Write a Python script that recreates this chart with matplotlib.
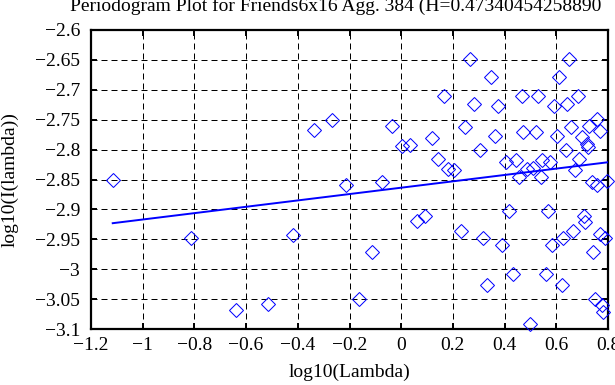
import numpy as np
import matplotlib
matplotlib.use('Agg')  # headless backend
import matplotlib.pyplot as plt

# log10(lambda), log10(I(lambda))
log_lambda = [
    -1.116, -0.813, -0.638, -0.514, -0.419, -0.336, -0.269, -0.214, -0.162, -0.114,
    -0.073, -0.036, 0.002, 0.034, 0.062, 0.092, 0.118, 0.142, 0.166, 0.182,
    0.204, 0.230, 0.248, 0.266, 0.283, 0.304, 0.318, 0.333, 0.347, 0.364,
    0.376, 0.390, 0.404, 0.416, 0.431, 0.443, 0.457, 0.467, 0.472, 0.485,
    0.498, 0.511, 0.521, 0.528, 0.539, 0.546, 0.559, 0.568, 0.576, 0.582,
    0.591, 0.601, 0.609, 0.621, 0.627, 0.636, 0.643, 0.648, 0.656, 0.663,
    0.672, 0.685, 0.689, 0.698, 0.707, 0.712, 0.718, 0.724, 0.725, 0.737,
    0.743, 0.750, 0.756, 0.756, 0.769, 0.769, 0.776, 0.782, 0.788, 0.795,
]
log_power = [
    -2.851, -2.947, -3.069, -3.058, -2.943, -2.768, -2.751, -2.859, -3.050, -2.972,
    -2.854, -2.761, -2.794, -2.792, -2.919, -2.911, -2.781, -2.815, -2.710, -2.832,
    -2.834, -2.936, -2.762, -2.648, -2.724, -2.800, -2.948, -3.026, -2.679, -2.777,
    -2.727, -2.960, -2.821, -2.902, -3.008, -2.818, -2.845, -2.710, -2.771, -2.832,
    -3.092, -2.830, -2.771, -2.710, -2.845, -2.818, -3.008, -2.902, -2.821, -2.959,
    -2.727, -2.777, -2.678, -3.026, -2.948, -2.800, -2.724, -2.648, -2.762, -2.936,
    -2.834, -2.710, -2.815, -2.779, -2.911, -2.921, -2.790, -2.795, -2.761, -2.854,
    -2.972, -3.049, -2.749, -2.859, -2.769, -2.941, -3.060, -3.071, -2.947, -2.852,
]

# least-squares fit line (slope = 1 - 2H)
fit_slope = 0.0532
fit_intercept = -2.8637
fit_x = [-1.116, 0.8]

x_ticks = [-1.2, -1.0, -0.8, -0.6, -0.4, -0.2, 0.0, 0.2, 0.4, 0.6, 0.8]
x_labels = ["\u22121.2", "\u22121", "\u22120.8", "\u22120.6", "\u22120.4", "\u22120.2",
            "0", "0.2", "0.4", "0.6", "0.8"]
y_ticks = [-2.6, -2.65, -2.7, -2.75, -2.8, -2.85, -2.9, -2.95, -3.0, -3.05, -3.1]
y_labels = ["\u22122.6", "\u22122.65", "\u22122.7", "\u22122.75", "\u22122.8", "\u22122.85",
            "\u22122.9", "\u22122.95", "\u22123", "\u22123.05", "\u22123.1"]

title = "Periodogram Plot for Friends6x16 Agg. 384 (H=0.47340454258890"

plt.rcParams['font.family'] = ['Liberation Serif', 'DejaVu Serif']
plt.rcParams['font.size'] = 14

fig = plt.figure(figsize=(6.15, 3.85), dpi=100)
ax = fig.add_axes([91 / 615, 56 / 385, 517 / 615, 299 / 385])

ax.set_xlim(-1.2, 0.8)
ax.set_ylim(-3.1, -2.6)

ax.grid(True, color='black', linewidth=0.72, linestyle=(0, (6, 4)))
ax.set_axisbelow(True)

fx = np.array(fit_x)
ax.plot(fx, fit_intercept + fit_slope * fx, color='#0000ff', linewidth=1.4, zorder=3)
ax.plot(log_lambda, log_power, linestyle='none', marker='D', markersize=7.0,
        markerfacecolor='none', markeredgecolor='#0000ff', markeredgewidth=0.72,
        zorder=4, clip_on=False)

ax.set_xticks(x_ticks)
ax.set_xticklabels(x_labels)
ax.set_yticks(y_ticks)
ax.set_yticklabels(y_labels)
ax.tick_params(direction='in', length=4.5, width=1.4, top=True, right=True,
               labelsize=14, colors='black')
ax.tick_params(axis='x', pad=6)
ax.tick_params(axis='y', pad=8)
for s in ax.spines.values():
    s.set_linewidth(1.6)

fig.text(70 / 615, 1 - 6 / 385, title, ha='left', va='center', fontsize=14)
fig.text(350 / 615, 1 - 372 / 385, "log10(Lambda)", ha='center', va='center', fontsize=14)
fig.text(10 / 615, 1 - 180 / 385, "log10(I(lambda))", ha='center', va='center',
         rotation=90, fontsize=14)

fig.savefig("out.png", dpi=100)
